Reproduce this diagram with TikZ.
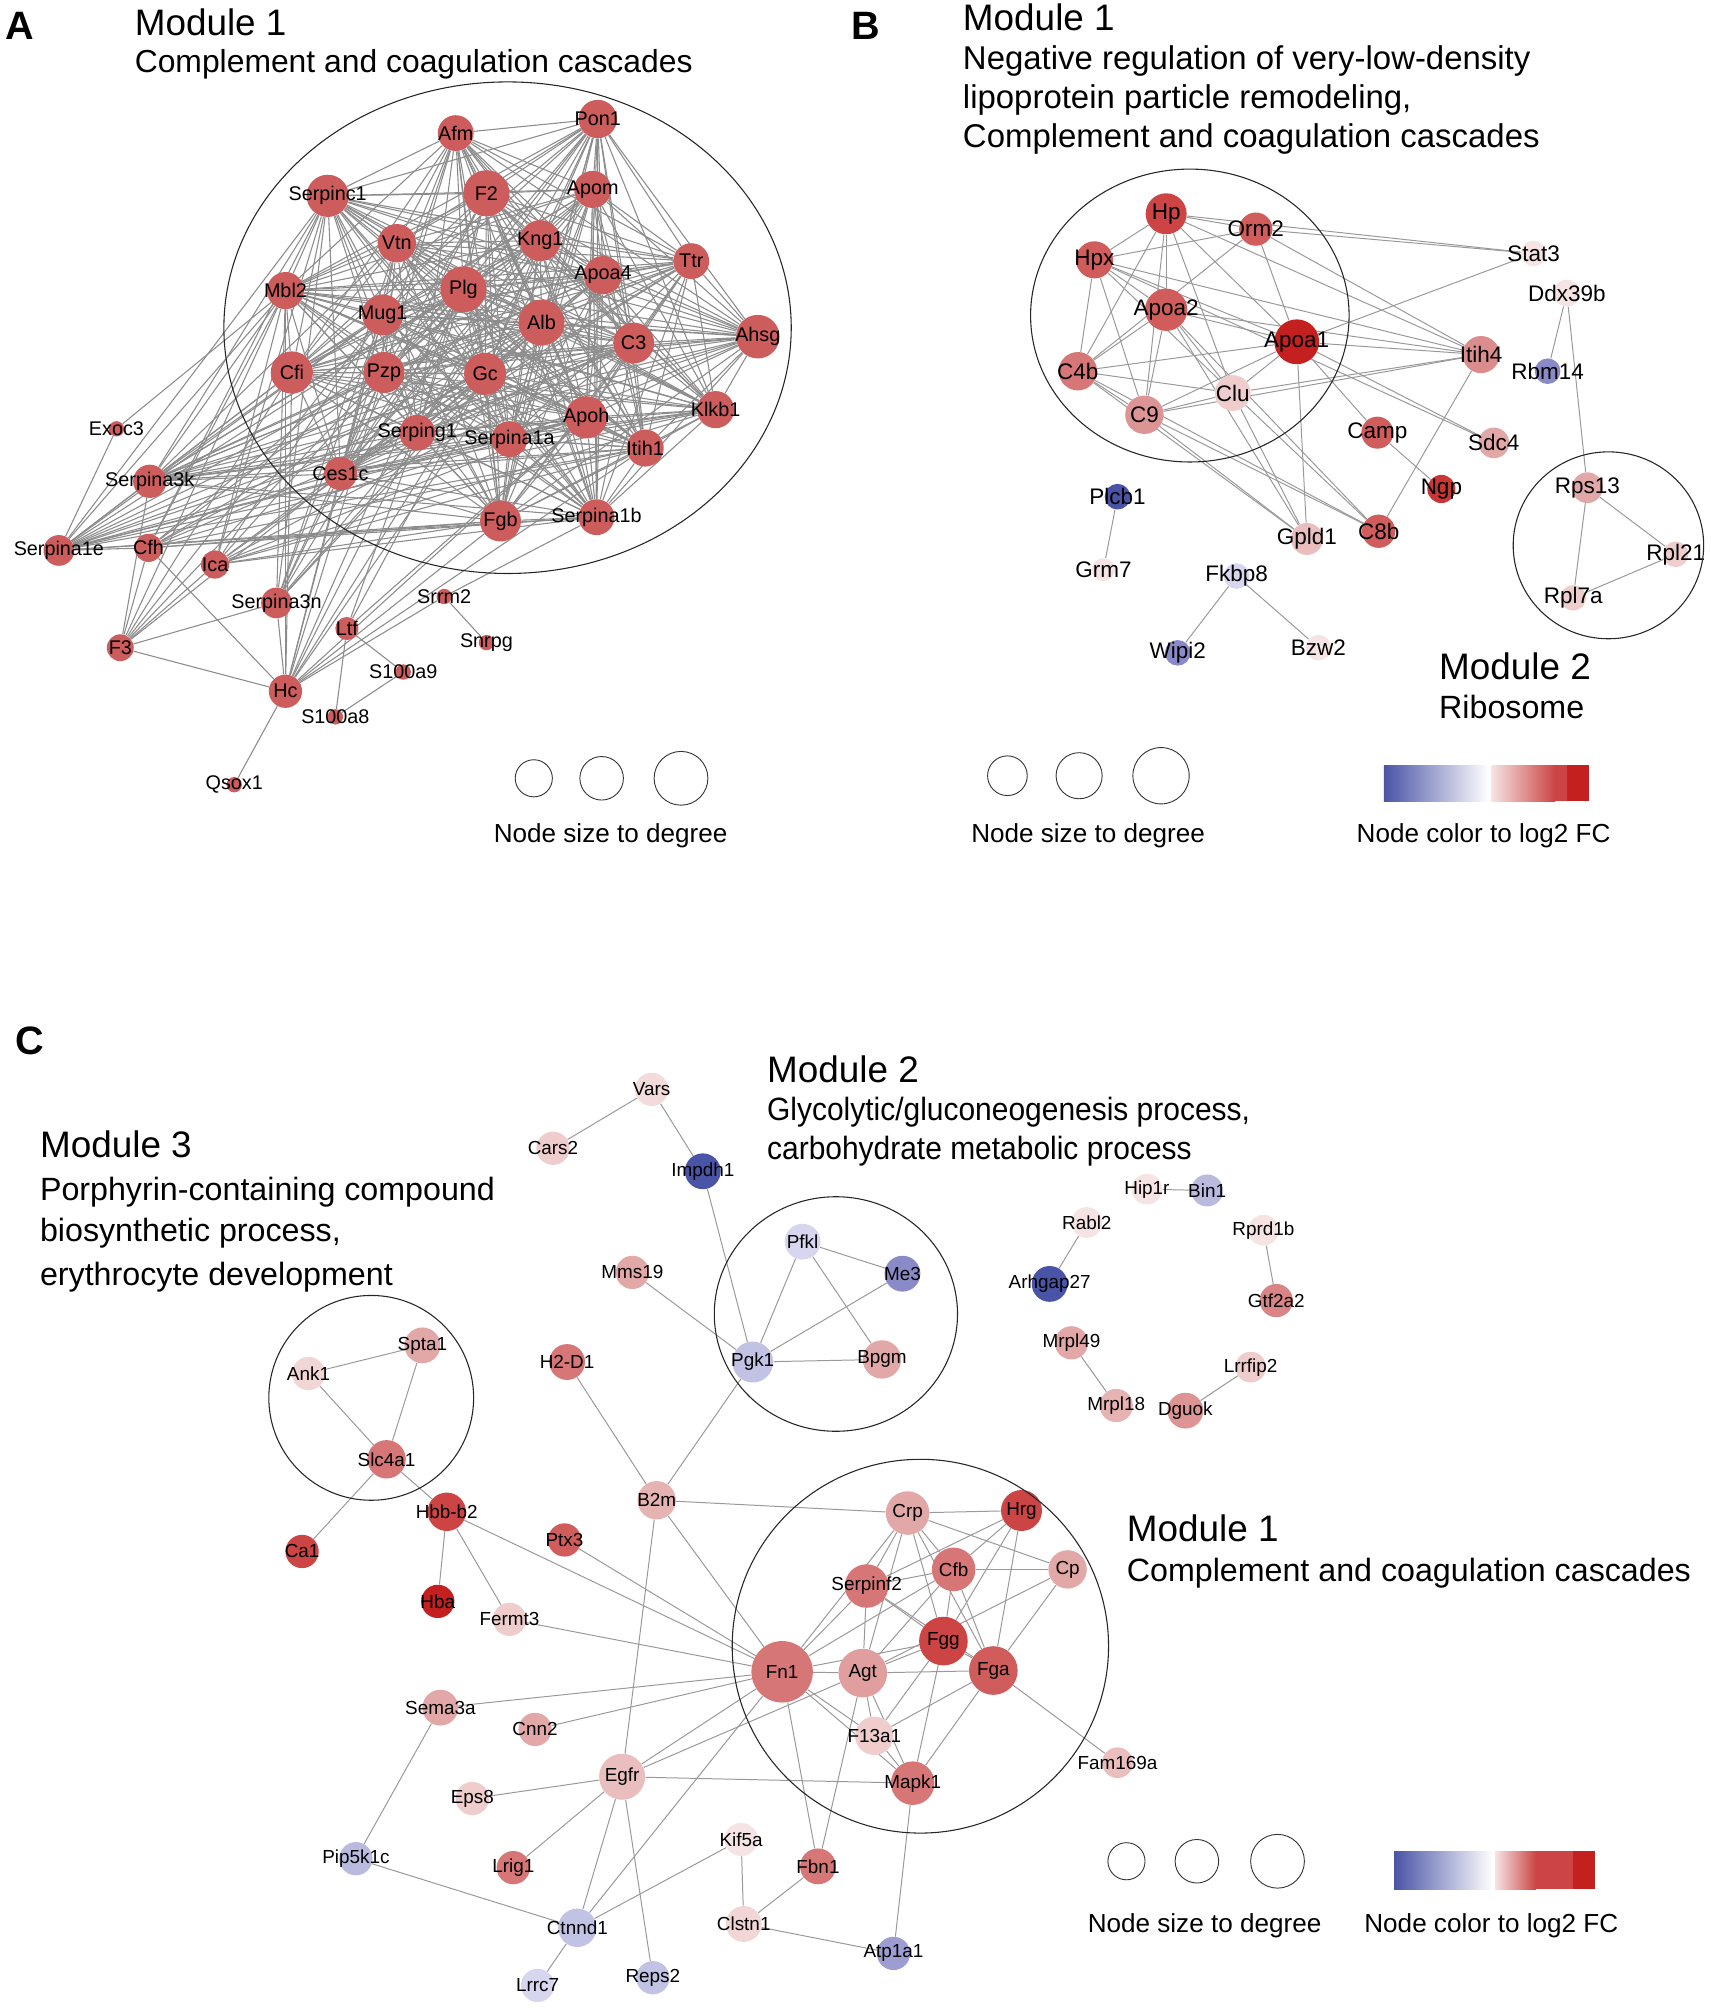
\documentclass[tikz,border=0pt]{standalone}
\usepackage{fontspec}
\setmainfont{Liberation Sans}
\usetikzlibrary{backgrounds}

% node colours (log2 FC)
\definecolor{nodeA}{HTML}{CD5C5C}
\definecolor{up5}{HTML}{C42020}
\definecolor{up4}{HTML}{CC4444}
\definecolor{up3}{HTML}{D05C5C}
\definecolor{up2}{HTML}{D67676}
\definecolor{up1}{HTML}{E2A8A8}
\definecolor{upa}{HTML}{EFCDCD}
\definecolor{upb}{HTML}{F6E4E4}
\definecolor{dn3}{HTML}{4A54A6}
\definecolor{dn2}{HTML}{8A8AC8}
\definecolor{dn1}{HTML}{BABADF}
\definecolor{dn0}{HTML}{D6D6EE}

\begin{document}
\begin{tikzpicture}[x=0.25mm, y=-0.25mm,
  gn/.style={circle, inner sep=0pt, minimum size=#1*0.5mm},
  ring/.style={circle, draw=black!80, line width=0.5pt, inner sep=0pt, minimum size=#1*0.5mm},
  link/.style={draw=black!40, line width=0.55pt},
  module/.style={draw=black!85, line width=0.6pt},
  every label/.style={inner sep=0pt, font=\fontsize{11}{13}\selectfont},
  panel/.style={font=\fontsize{22}{26}\selectfont\bfseries, anchor=base west, inner sep=0pt},
  head/.style={font=\fontsize{20.5}{24}\selectfont, anchor=base west, inner sep=0pt},
  sub/.style={font=\fontsize{17.9}{21}\selectfont, anchor=base west, inner sep=0pt},
  subB/.style={sub, font=\fontsize{18.3}{21}\selectfont},
  legend/.style={font=\fontsize{14.5}{17}\selectfont, anchor=base, inner sep=0pt}]
\useasboundingbox (0,0) rectangle (1336,1571);

%%%%%%%%%%%%%%%% Panel A
\node[panel] (tagA) at (4,31) {A};
\node[head] (headA) at (105,28) {Module 1};
\node[sub, font=\fontsize{17.7}{21}\selectfont] (subA) at (105,57) {Complement and coagulation cascades};

% Nodes
\node[gn=14, fill=nodeA, label=center:Afm] (afm) at (356,104) {};
\node[gn=15, fill=nodeA, label=center:Pon1] (pon1) at (467,93) {};
\node[gn=16.5, fill=nodeA, label=center:Serpinc1] (serpinc1) at (256,153) {};
\node[gn=18, fill=nodeA, label=center:F2] (f2) at (380,151) {};
\node[gn=14.5, fill=nodeA, label=center:Apom] (apom) at (463,148) {};
\node[gn=15, fill=nodeA, label=center:Vtn] (vtn) at (310,190) {};
\node[gn=16, fill=nodeA, label=center:Kng1] (kng1) at (422,188) {};
\node[gn=14, fill=nodeA, label=center:Ttr] (ttr) at (540,204) {};
\node[gn=15, fill=nodeA, label=center:Apoa4] (apoa4) at (471,215) {};
\node[gn=14.5, fill=nodeA, label=center:Mbl2] (mbl2) at (223,227) {};
\node[gn=18, fill=nodeA, label=center:Plg] (plg) at (362,226) {};
\node[gn=16, fill=nodeA, label=center:Mug1] (mug1) at (299,246) {};
\node[gn=18, fill=nodeA, label=center:Alb] (alb) at (423,252) {};
\node[gn=16, fill=nodeA, label=center:C3] (c3) at (495,268) {};
\node[gn=17, fill=nodeA, label=center:Ahsg] (ahsg) at (592,263) {};
\node[gn=16.5, fill=nodeA, label=center:Cfi] (cfi) at (228,291) {};
\node[gn=16, fill=nodeA, label=center:Pzp] (pzp) at (300,291) {};
\node[gn=16.5, fill=nodeA, label=center:Gc] (gc) at (379,292) {};
\node[gn=16.5, fill=nodeA, label=center:Apoh] (apoh) at (458,326) {};
\node[gn=14.5, fill=nodeA, label=center:Klkb1] (klkb1) at (559,320) {};
\node[gn=14, fill=nodeA, label=center:Serping1] (serping1) at (326,338) {};
\node[gn=14, fill=nodeA, label=center:Serpina1a] (serpina1a) at (398,343) {};
\node[gn=14.5, fill=nodeA, label=center:Itih1] (itih1) at (504,350) {};
\node[gn=13, fill=nodeA, label=center:Ces1c] (ces1c) at (266,370) {};
\node[gn=16, fill=nodeA, label=center:Fgb] (fgb) at (391,407) {};
\node[gn=14, fill=nodeA, label=center:Serpina1b] (serpina1b) at (466,404) {};
\node[gn=6, fill=nodeA, label=center:Exoc3] (exoc3) at (91,335) {};
\node[gn=13, fill=nodeA, label=center:Serpina3k] (serpina3k) at (117,376) {};
\node[gn=12, fill=nodeA, label=center:Serpina1e] (serpina1e) at (46,430) {};
\node[gn=11, fill=nodeA, label=center:Cfh] (cfh) at (116,428) {};
\node[gn=11, fill=nodeA, label=center:Ica] (ica) at (168,441) {};
\node[gn=12, fill=nodeA, label=center:Serpina3n] (serpina3n) at (216,471) {};
\node[gn=6, fill=nodeA, label=center:Srrm2] (srrm2) at (347,466) {};
\node[gn=9, fill=nodeA, label=center:Ltf] (ltf) at (271,491) {};
\node[gn=6, fill=nodeA, label=center:Snrpg] (snrpg) at (380,502) {};
\node[gn=10.5, fill=nodeA, label=center:F3] (f3) at (94,506) {};
\node[gn=6, fill=nodeA, label=center:S100a9] (s100a9) at (315,525) {};
\node[gn=13, fill=nodeA, label=center:Hc] (hc) at (223,540) {};
\node[gn=6, fill=nodeA, label=center:S100a8] (s100a8) at (262,560) {};
\node[gn=6, fill=nodeA, label=center:Qsox1] (qsox1) at (183,613) {};

% Links
\begin{scope}[on background layer, link/.append style={draw=black!45, line width=0.6pt}]
\def\modA{afm,pon1,serpinc1,f2,apom,vtn,kng1,ttr,apoa4,mbl2,plg,mug1,alb,c3,ahsg,cfi,pzp,gc,apoh,klkb1,serping1,serpina1a,itih1,ces1c,fgb,serpina1b}
\foreach \a [count=\i] in \modA {
  \foreach \b [count=\j] in \modA {
    \ifnum\j>\i \draw[link] (\a) -- (\b); \fi
  }
}
\foreach \a/\bs in {
  serpina3k/{serpinc1,mbl2,vtn,plg,mug1,alb,c3,ahsg,cfi,pzp,gc,apoh,klkb1,serping1,serpina1a,itih1,ces1c,fgb,serpina1b,kng1,apoa4,ttr,serpina1e,f3},
  serpina1e/{serpinc1,mbl2,plg,mug1,alb,c3,cfi,pzp,gc,apoh,klkb1,serping1,serpina1a,itih1,ces1c,fgb,serpina1b,cfh,exoc3},
  cfh/{serpinc1,mbl2,plg,c3,alb,gc,pzp,apoh,fgb,itih1,f3,hc,serpina1b},
  ica/{serpinc1,mbl2,mug1,plg,alb,c3,gc,apoh,fgb,serpina1b,itih1,klkb1,f3},
  serpina3n/{serpinc1,mbl2,vtn,plg,mug1,alb,pzp,gc,ces1c,serping1,f3,hc},
  f3/{mbl2,cfi,ces1c,pzp,mug1,hc},
  hc/{mbl2,cfi,pzp,mug1,plg,serping1,ces1c,gc,alb,apoh,fgb,itih1,srrm2,qsox1},
  ltf/{serping1,gc,apoh,s100a9,s100a8},
  srrm2/{snrpg,serpina1b},
  exoc3/{mbl2},
  s100a8/{s100a9}} {
  \foreach \b in \bs \draw[link] (\a) -- (\b);
}
\end{scope}

\draw[module] (396.5,256) ellipse [x radius=55.4mm, y radius=48mm];

% Legend
\node[ring=14.5] (szA1) at (417,608) {};
\node[ring=17] (szA2) at (470,608) {};
\node[ring=21] (szA3) at (532,608) {};
\node[legend] (legA) at (477,658) {Node size to degree};

%%%%%%%%%%%%%%%% Panel B
\node[panel] (tagB) at (665,31) {B};
\node[head] (headB) at (752,24) {Module 1};
\node[subB] (subB1) at (752,54) {Negative regulation of very-low-density};
\node[subB] (subB2) at (752,85) {lipoprotein particle remodeling,};
\node[subB] (subB3) at (752,115) {Complement and coagulation cascades};
\node[head] (headB2) at (1124,531) {Module 2};
\node[sub] (subB4) at (1124,561) {Ribosome};

% Nodes
\begin{scope}[every label/.append style={font=\fontsize{12.5}{14}\selectfont}]
\node[gn=16, fill=up4, label=center:Hp] (hp) at (911,167) {};
\node[gn=13, fill=up3, label=center:Orm2] (orm2) at (981,179) {};
\node[gn=14.5, fill=up3, label=center:Hpx] (hpx) at (855,203) {};
\node[gn=16.5, fill=up3, label=center:Apoa2] (apoa2) at (911,242) {};
\node[gn=17.5, fill=up5, label=center:Apoa1] (apoa1) at (1013,267) {};
\node[gn=10, fill=upb, label=center:Stat3] (stat3) at (1198,198) {};
\node[gn=10.5, fill=upb, label=center:Ddx39b] (ddx39b) at (1224,229) {};
\node[gn=14.5, fill=up2!55!up1, label=center:Itih4] (itih4) at (1157,277) {};
\node[gn=10, fill=dn2, label=center:Rbm14] (rbm14) at (1209,290) {};
\node[gn=15, fill=up2, label=center:C4b] (c4b) at (842,290) {};
\node[gn=14, fill=upa, label=center:Clu] (clu) at (963,307) {};
\node[gn=15, fill=up2!40!up1, label=center:C9] (c9) at (894,324) {};
\node[gn=12.5, fill=up3, label=center:Camp] (camp) at (1076,338) {};
\node[gn=12, fill=up1, label=center:Sdc4] (sdc4) at (1167,346) {};
\node[gn=10, fill=dn3, label=center:Plcb1] (plcb1) at (873,388) {};
\node[gn=11, fill=up4!60!up5, label=center:Ngp] (ngp) at (1126,382) {};
\node[gn=12, fill=up1, label=center:Rps13] (rps13) at (1240,381) {};
\node[gn=12.5, fill=upa!60!up1, label=center:Gpld1] (gpld1) at (1021,421) {};
\node[gn=13, fill=up3, label=center:C8b] (c8b) at (1077,415) {};
\node[gn=10, fill=upa, label=center:Rpl21] (rpl21) at (1309,433) {};
\node[gn=9, fill=upb, label=center:Grm7] (grm7) at (862,445) {};
\node[gn=10, fill=dn0, label=center:Fkbp8] (fkbp8) at (966,450) {};
\node[gn=10, fill=upa, label=center:Rpl7a] (rpl7a) at (1229,467) {};
\node[gn=10, fill=dn2, label=center:Wipi2] (wipi2) at (920,510) {};
\node[gn=10, fill=upb, label=center:Bzw2] (bzw2) at (1030,506) {};
\end{scope}

% Links
\begin{scope}[on background layer]
\foreach \a/\bs in {
  hp/{orm2,hpx,apoa2,apoa1,itih4,stat3,c4b,c9,clu},
  orm2/{stat3,hpx,apoa1,itih4,c4b},
  hpx/{apoa2,apoa1,itih4,c4b,c9,clu,sdc4},
  apoa2/{apoa1,itih4,c4b,c9,clu,gpld1,c8b},
  apoa1/{c4b,c9,clu,itih4,stat3,gpld1,camp,sdc4},
  c4b/{clu,c9,c8b,gpld1},
  c9/{clu,itih4,c8b,gpld1},
  clu/{gpld1,c8b,itih4},
  itih4/{c8b},
  camp/{ngp},
  ddx39b/{rbm14,rps13},
  rps13/{rpl21,rpl7a},
  rpl7a/{rpl21},
  plcb1/{grm7},
  fkbp8/{wipi2,bzw2}} {
  \foreach \b in \bs \draw[link] (\a) -- (\b);
}
\end{scope}

\draw[module] (929.5,246.5) ellipse [x radius=31.1mm, y radius=28.6mm];
\draw[module] (1256.5,426) ellipse [x radius=18.6mm, y radius=18.25mm];

% Legend
\node[ring=15.5] (szB1) at (787,606) {};
\node[ring=18] (szB2) at (843,606) {};
\node[ring=22] (szB3) at (907,606) {};
\node[legend] (legB1) at (850,658) {Node size to degree};
\shade[left color=dn3, right color=white] (1081,598) rectangle (1163,626);
\shade[left color=upb, right color=up4] (1165,598) rectangle (1215,626);
\fill[up4] (1215,598) rectangle (1224,626);
\fill[up5] (1224,598) rectangle (1241,626);
\node[legend] (legB2) at (1159,658) {Node color to log2 FC};

%%%%%%%%%%%%%%%% Panel C
\node[panel] (tagC) at (12,824) {C};
\node[head] (headC3) at (31,904) {Module 3};
\node[sub] (subC31) at (31,937.5) {Porphyrin-containing compound};
\node[sub] (subC32) at (31,970) {biosynthetic process,};
\node[sub] (subC33) at (31,1004) {erythrocyte development};
\node[head] (headC2) at (599,846) {Module 2};
\node[sub] (subC21) at (599,875.5) {\scalebox{0.93}[1]{Glycolytic/gluconeogenesis process,}};
\node[sub] (subC22) at (599,905.5) {\scalebox{0.93}[1]{carbohydrate metabolic process}};
\node[head] (headC1) at (880,1204) {Module 1};
\node[sub] (subC11) at (880,1235.5) {Complement and coagulation cascades};

% Nodes
\begin{scope}[every label/.append style={font=\fontsize{10.5}{12}\selectfont}]
\node[gn=13, fill=upb!60!upa, label=center:Vars] (vars) at (509,851) {};
\node[gn=13, fill=upa, label=center:Cars2] (cars2) at (432,897) {};
\node[gn=14, fill=dn3, label=center:Impdh1] (impdh1) at (549,915) {};
\node[gn=12, fill=upb, label=center:Hip1r] (hip1r) at (896,929) {};
\node[gn=12.5, fill=dn1, label=center:Bin1] (bin1) at (943,930) {};
\node[gn=12, fill=upb, label=center:Rabl2] (rabl2) at (849,955) {};
\node[gn=12, fill=upb, label=center:Rprd1b] (rprd1b) at (987,961) {};
\node[gn=14, fill=dn0, label=center:Pfkl] (pfkl) at (627,970) {};
\node[gn=14, fill=dn2, label=center:Me3] (me3) at (705,995) {};
\node[gn=13, fill=up1, label=center:Mms19] (mms19) at (494,994) {};
\node[gn=14, fill=dn3, label=center:Arhgap27] (arhgap27) at (820,1003) {};
\node[gn=13, fill=up2!70!up1, label=center:Gtf2a2] (gtf2a2) at (997,1016) {};
\node[gn=13, fill=up1, label=center:Mrpl49] (mrpl49) at (837,1049) {};
\node[gn=14, fill=up1, label=center:Spta1] (spta1) at (330,1051) {};
\node[gn=13, fill=upa!60!upb, label=center:Ank1] (ank1) at (241,1073) {};
\node[gn=14, fill=up2, label=center:H2-D1] (h2d1) at (443,1064) {};
\node[gn=16, fill=dn1!70!dn0, label=center:Pgk1] (pgk1) at (588,1064) {};
\node[gn=15, fill=up1, label=center:Bpgm] (bpgm) at (689,1062) {};
\node[gn=12, fill=upa, label=center:Lrrfip2] (lrrfip2) at (977,1068) {};
\node[gn=13, fill=up1!70!upa, label=center:Mrpl18] (mrpl18) at (872,1098) {};
\node[gn=14, fill=up2!40!up1, label=center:Dguok] (dguok) at (926,1102) {};
\node[gn=15, fill=up2, label=center:Slc4a1] (slc4a1) at (302,1140) {};
\node[gn=15, fill=up1!70!upa, label=center:B2m] (b2m) at (513,1172) {};
\node[gn=15, fill=up4, label=center:Hbb-b2] (hbbb2) at (349,1181) {};
\node[gn=13, fill=up4, label=center:Ca1] (ca1) at (236,1212) {};
\node[gn=13, fill=up3, label=center:Ptx3] (ptx3) at (441,1203) {};
\node[gn=13, fill=up5, label=center:Hba] (hba) at (342,1251) {};
\node[gn=13, fill=upa, label=center:Fermt3] (fermt3) at (398,1265) {};
\node[gn=17, fill=up1, label=center:Crp] (crp) at (709,1182) {};
\node[gn=16, fill=up4, label=center:Hrg] (hrg) at (798,1180) {};
\node[gn=17, fill=up2, label=center:Cfb] (cfb) at (745,1226) {};
\node[gn=15, fill=up1, label=center:Cp] (cp) at (834,1226) {};
\node[gn=17, fill=up2, label=center:Serpinf2] (serpinf2) at (677,1239) {};
\node[gn=19, fill=up4, label=center:Fgg] (fgg) at (737,1282) {};
\node[gn=19, fill=up3, label=center:Fga] (fga) at (776,1305) {};
\node[gn=19, fill=up1!80!up2, label=center:Agt] (agt) at (674,1307) {};
\node[gn=24, fill=up2, label=center:Fn1] (fn1) at (611,1306) {};
\node[gn=15, fill=upa, label=center:F13a1] (f13a1) at (683,1356) {};
\node[gn=12, fill=upa!60!up1, label=center:Fam169a] (fam169a) at (873,1377) {};
\node[gn=17, fill=up2, label=center:Mapk1] (mapk1) at (713,1393) {};
\node[gn=14, fill=up1, label=center:Sema3a] (sema3a) at (344,1334) {};
\node[gn=13, fill=up1, label=center:Cnn2] (cnn2) at (418,1351) {};
\node[gn=18, fill=upa!60!up1, label=center:Egfr] (egfr) at (486,1388) {};
\node[gn=13, fill=upa, label=center:Eps8] (eps8) at (369,1405) {};
\node[gn=13, fill=dn1, label=center:Pip5k1c] (pip5k1c) at (278,1452) {};
\node[gn=13, fill=up2, label=center:Lrig1] (lrig1) at (401,1459) {};
\node[gn=13, fill=upb, label=center:Kif5a] (kif5a) at (579,1437) {};
\node[gn=14, fill=up2, label=center:Fbn1] (fbn1) at (639,1458) {};
\node[gn=15, fill=dn1!70!dn0, label=center:Ctnnd1] (ctnnd1) at (451,1506) {};
\node[gn=14, fill=upa!60!upb, label=center:Clstn1] (clstn1) at (581,1503) {};
\node[gn=13, fill=dn0, label=center:Lrrc7] (lrrc7) at (420,1551) {};
\node[gn=13, fill=dn1!70!dn0, label=center:Reps2] (reps2) at (510,1545) {};
\node[gn=13, fill=dn2!60!dn1, label=center:Atp1a1] (atp1a1) at (698,1526) {};
\end{scope}

% Links
\begin{scope}[on background layer]
\foreach \a/\bs in {
  vars/{cars2,impdh1}, impdh1/{pgk1}, mms19/{pgk1},
  pfkl/{me3,pgk1,bpgm}, me3/{pgk1}, pgk1/{bpgm,b2m}, h2d1/{b2m},
  hip1r/{bin1}, rabl2/{arhgap27}, rprd1b/{gtf2a2}, mrpl49/{mrpl18}, lrrfip2/{dguok},
  ank1/{spta1,slc4a1}, spta1/{slc4a1}, slc4a1/{ca1,hbbb2},
  hbbb2/{hba,fermt3,fn1}, ptx3/{fn1}, b2m/{crp,fn1,egfr}, fermt3/{fn1},
  sema3a/{fn1,pip5k1c}, cnn2/{fn1},
  egfr/{fn1,agt,mapk1,eps8,lrig1,ctnnd1,reps2},
  ctnnd1/{fn1,pip5k1c,lrrc7,kif5a}, kif5a/{clstn1}, clstn1/{fbn1,atp1a1},
  fbn1/{fn1,agt}, atp1a1/{mapk1},
  fn1/{serpinf2,crp,cfb,agt,fgg,f13a1,mapk1},
  crp/{hrg,cp,cfb,serpinf2,fgg,fga,agt},
  hrg/{serpinf2,cfb,fgg,fga},
  cfb/{cp,serpinf2,fgg,fga,agt},
  cp/{fga,agt},
  serpinf2/{fgg,agt,fga},
  fgg/{agt,fga,f13a1,mapk1},
  agt/{fga,f13a1,mapk1},
  fga/{mapk1,f13a1,fam169a},
  f13a1/{mapk1}} {
  \foreach \b in \bs \draw[link] (\a) -- (\b);
}
\end{scope}

\draw[module] (290,1092) ellipse [x radius=20mm, y radius=20mm];
\draw[module] (653,1026.5) ellipse [x radius=23.75mm, y radius=22.9mm];
\draw[module] (719,1286) ellipse [x radius=36.75mm, y radius=36.5mm];

% Legend
\node[ring=14.5] (szC1) at (880,1454) {};
\node[ring=17] (szC2) at (935,1454) {};
\node[ring=21] (szC3) at (998,1454) {};
\node[legend] (legC1) at (941,1510) {Node size to degree};
\shade[left color=dn3, right color=white] (1089,1446) rectangle (1166,1476);
\shade[left color=upb, right color=up4] (1168,1446) rectangle (1200,1476);
\fill[up4] (1200,1446) rectangle (1229,1476);
\fill[up5] (1229,1446) rectangle (1246,1476);
\node[legend] (legC2) at (1165,1510) {Node color to log2 FC};
\end{tikzpicture}
\end{document}
